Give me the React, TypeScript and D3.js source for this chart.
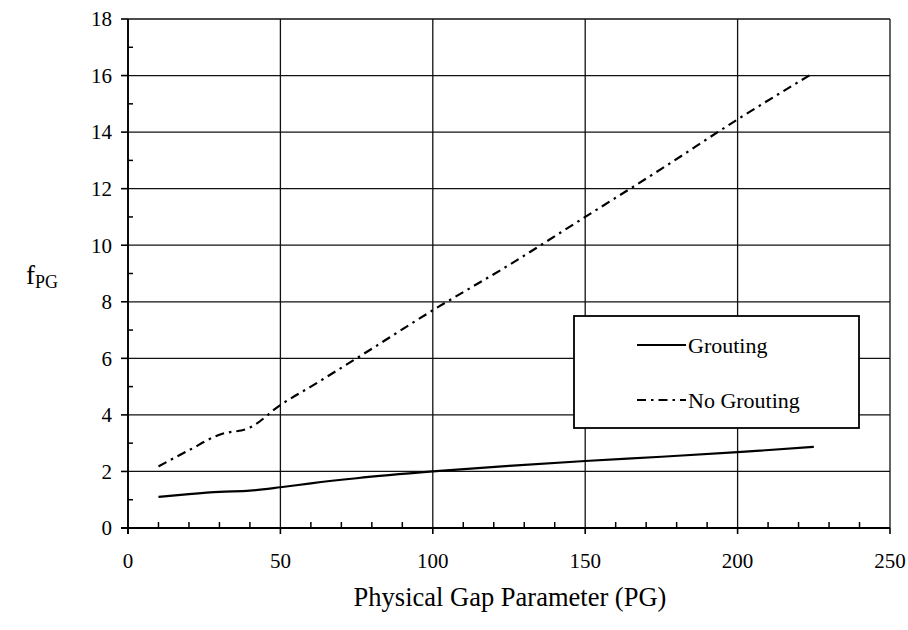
import * as d3 from 'd3';
import React, {useRef, useEffect} from 'react';

// physical gap parameter values where the curves were read
const pgValues = [10, 20, 30, 40, 50, 60, 75, 100, 125, 150, 175, 200, 225];
const grouting = [1.1, 1.2, 1.28, 1.32, 1.44, 1.58, 1.76, 2.0, 2.2, 2.37, 2.52, 2.68, 2.87];
const noGrouting = [2.18, 2.75, 3.3, 3.55, 4.35, 5.0, 6.0, 7.7, 9.3, 11.0, 12.7, 14.45, 16.1];

const xTicks = [0, 50, 100, 150, 200, 250];
const yTicks = [0, 2, 4, 6, 8, 10, 12, 14, 16, 18];
const legendLabels = ["Grouting", "No Grouting"];

const FONT = '"Liberation Serif", "Times New Roman", serif';

export default function App() {
  const ref = useRef<SVGSVGElement>(null);

  useEffect(() => {
    const svg = d3.select(ref.current);
    svg.selectAll("*").remove();

    const left = 128, right = 890, top = 19, bottom = 528;

    const x = d3.scaleLinear().domain([0, 250]).range([left, right]);
    const y = d3.scaleLinear().domain([0, 18]).range([bottom, top]);

    const g = svg.append("g");

    // grid lines
    g.selectAll(".hgrid")
      .data(yTicks)
      .enter()
      .append("line")
      .attr("x1", left).attr("x2", right)
      .attr("y1", d => y(d)).attr("y2", d => y(d))
      .attr("stroke", "#111").attr("stroke-width", 1.3);

    g.selectAll(".vgrid")
      .data(xTicks)
      .enter()
      .append("line")
      .attr("x1", d => x(d)).attr("x2", d => x(d))
      .attr("y1", top).attr("y2", bottom)
      .attr("stroke", "#111").attr("stroke-width", 1.3);

    // axis lines (a bit heavier)
    g.append("line").attr("x1", left).attr("x2", left).attr("y1", top).attr("y2", bottom + 6)
      .attr("stroke", "#000").attr("stroke-width", 1.8);
    g.append("line").attr("x1", left - 7).attr("x2", right).attr("y1", bottom).attr("y2", bottom)
      .attr("stroke", "#000").attr("stroke-width", 1.8);

    // major ticks outward
    g.selectAll(".ymaj")
      .data(yTicks)
      .enter()
      .append("line")
      .attr("x1", left - 7).attr("x2", left)
      .attr("y1", d => y(d)).attr("y2", d => y(d))
      .attr("stroke", "#000").attr("stroke-width", 1.6);
    g.selectAll(".xmaj")
      .data(xTicks)
      .enter()
      .append("line")
      .attr("x1", d => x(d)).attr("x2", d => x(d))
      .attr("y1", bottom).attr("y2", bottom + 6)
      .attr("stroke", "#000").attr("stroke-width", 1.6);

    // minor ticks inward
    const yMinor = d3.range(1, 18, 2);
    g.selectAll(".ymin")
      .data(yMinor)
      .enter()
      .append("line")
      .attr("x1", left).attr("x2", left + 5)
      .attr("y1", d => y(d)).attr("y2", d => y(d))
      .attr("stroke", "#000").attr("stroke-width", 1.5);
    const xMinor = d3.range(10, 250, 10).filter(d => d % 50 !== 0);
    g.selectAll(".xmin")
      .data(xMinor)
      .enter()
      .append("line")
      .attr("x1", d => x(d)).attr("x2", d => x(d))
      .attr("y1", bottom).attr("y2", bottom - 6)
      .attr("stroke", "#000").attr("stroke-width", 1.5);

    // tick labels
    g.selectAll(".ylab")
      .data(yTicks)
      .enter()
      .append("text")
      .attr("x", left - 16)
      .attr("y", d => y(d))
      .attr("dy", "0.35em")
      .attr("text-anchor", "end")
      .attr("font-family", FONT)
      .attr("font-size", 21)
      .text(d => d);

    g.selectAll(".xlab")
      .data(xTicks)
      .enter()
      .append("text")
      .attr("x", d => x(d))
      .attr("y", bottom + 40)
      .attr("text-anchor", "middle")
      .attr("font-family", FONT)
      .attr("font-size", 21)
      .text(d => d);

    // axis titles
    g.append("text")
      .attr("x", 510)
      .attr("y", 606)
      .attr("text-anchor", "middle")
      .attr("font-family", FONT)
      .attr("font-size", 26.5)
      .text("Physical Gap Parameter (PG)");

    const yt = g.append("text")
      .attr("x", 26)
      .attr("y", 284)
      .attr("font-family", FONT)
      .attr("font-size", 27);
    yt.append("tspan").text("f");
    yt.append("tspan").attr("font-size", 18).attr("dy", 4).text("PG");

    // series
    const line = d3.line<[number, number]>()
      .x(d => x(d[0]))
      .y(d => y(d[1]))
      .curve(d3.curveMonotoneX);

    g.append("path")
      .datum(pgValues.map((v, i) => [v, grouting[i]] as [number, number]))
      .attr("d", line)
      .attr("fill", "none")
      .attr("stroke", "#000")
      .attr("stroke-width", 2.2);

    g.append("path")
      .datum(pgValues.map((v, i) => [v, noGrouting[i]] as [number, number]))
      .attr("d", line)
      .attr("fill", "none")
      .attr("stroke", "#000")
      .attr("stroke-width", 2.2)
      .attr("stroke-dasharray", "9,5,2.5,5");

    // legend
    const lx = 574, ly = 316, lw = 285, lh = 112;
    g.append("rect")
      .attr("x", lx).attr("y", ly)
      .attr("width", lw).attr("height", lh)
      .attr("fill", "#fff")
      .attr("stroke", "#000")
      .attr("stroke-width", 1.8);

    const items = g.selectAll(".leg")
      .data(legendLabels)
      .enter()
      .append("g")
      .attr("transform", (_, i) => `translate(${lx}, ${ly + 29 + i * 55})`);

    items.append("line")
      .attr("x1", 63).attr("x2", 112)
      .attr("y1", 0).attr("y2", 0)
      .attr("stroke", "#000")
      .attr("stroke-width", 1.8)
      .attr("stroke-dasharray", (_, i) => i === 0 ? null : "9,5,2.5,5");

    items.append("text")
      .attr("x", 114)
      .attr("y", 0)
      .attr("dy", "0.35em")
      .attr("font-family", FONT)
      .attr("font-size", 22)
      .text(d => d);
  }, []);

  return (
    <svg ref={ref} width={908} height={630}
      style={{position: "absolute", left: 0, top: 0, background: "#fff"}} />
  );
}
